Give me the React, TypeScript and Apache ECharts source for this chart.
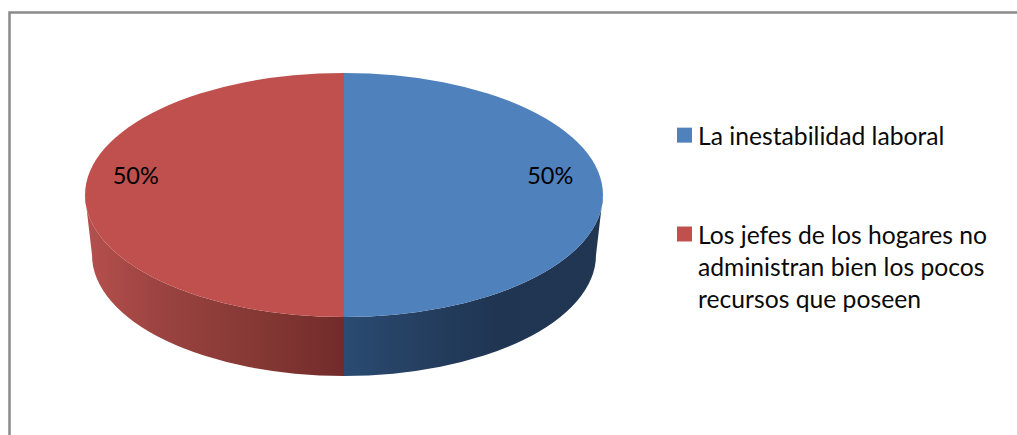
import React, { useEffect, useRef } from "react";
import * as echarts from "echarts";

const categories = [
  "La inestabilidad laboral",
  "Los jefes de los hogares no administran bien los pocos recursos que poseen",
];
const legendLabels = [
  "La inestabilidad laboral",
  "Los jefes de los hogares no\nadministran bien los pocos\nrecursos que poseen",
];
const values = [50, 50];
const topColors = ["#4F81BD", "#C0504D"];
const sideStops = [
  [
    [0, "#2A4B72"],
    [0.3, "#253F60"],
    [0.6, "#1F3552"],
    [1, "#203651"],
  ],
  [
    [0, "#B5504D"],
    [0.3, "#9A4340"],
    [0.7, "#833733"],
    [1, "#722B2A"],
  ],
];

const FONT = "Lato";
const C = { x: 344, y: 195, rx: 259, ry: 122 };
const B = { x: 344, y: 255, rx: 252, ry: 121 };
const total = values.reduce((a, b) => a + b, 0);
const starts = values.map((_, i) => values.slice(0, i).reduce((a, b) => a + b, 0));

const pt = (e: typeof C, a: number) => [e.x + e.rx * Math.sin(a), e.y - e.ry * Math.cos(a)];

function renderSlice(_: any, api: any) {
  const v = api.value(0);
  const s = api.value(1);
  const t = api.value(2);
  const idx = api.value(3);
  const a0 = (s / t) * 2 * Math.PI;
  const a1 = ((s + v) / t) * 2 * Math.PI;
  const [sx, sy] = pt(C, a0);
  const [ex, ey] = pt(C, a1);
  const large = a1 - a0 > Math.PI ? 1 : 0;
  const top = `M${C.x} ${C.y}L${sx} ${sy}A${C.rx} ${C.ry} 0 ${large} 1 ${ex} ${ey}Z`;

  const children: any[] = [];
  const v0 = Math.max(a0, Math.PI / 2);
  const v1 = Math.min(a1, (3 * Math.PI) / 2);
  if (v1 > v0) {
    const [p, q] = pt(C, v0);
    const [r, u] = pt(C, v1);
    const [b1, b2] = pt(B, v1);
    const [b3, b4] = pt(B, v0);
    const side = `M${p} ${q}A${C.rx} ${C.ry} 0 0 1 ${r} ${u}L${b1} ${b2}A${B.rx} ${B.ry} 0 0 0 ${b3} ${b4}Z`;
    children.push({
      type: "path",
      shape: { pathData: side },
      style: {
        fill: new echarts.graphic.LinearGradient(
          0,
          0,
          1,
          0,
          (idx === 0 ? sideStops[0] : sideStops[1]).map(([offset, color]) => ({ offset, color }))
        ),
      },
    });
  }
  children.push({ type: "path", shape: { pathData: top }, style: { fill: api.visual("color") } });

  const mid = (a0 + a1) / 2;
  children.push({
    type: "text",
    style: {
      x: C.x - 1 + C.rx * 0.8 * Math.sin(mid),
      y: C.y - 20,
      text: `${Math.round((v / t) * 100)}%`,
      fill: "#000",
      font: `23.5px ${FONT}`,
      align: "center",
      verticalAlign: "middle",
    },
  });
  return { type: "group", children };
}

export default function App() {
  const ref = useRef<HTMLDivElement>(null);
  useEffect(() => {
    const chart = echarts.init(ref.current!, undefined, { renderer: "svg" });
    const legendBase = {
      left: 677,
      orient: "vertical",
      padding: 0,
      itemWidth: 15,
      selectedMode: false,
      textStyle: { fontFamily: FONT, fontSize: 24.7, color: "#0a0a0a", lineHeight: 32.3, padding: [0, 0, 0, 1] },
      formatter: (n: string) => legendLabels[categories.indexOf(n)],
    };
    chart.setOption({
      animation: false,
      backgroundColor: "#fff",
      graphic: [
        {
          type: "polyline",
          shape: { points: [[9.5, 435], [9.5, 12.5], [1017, 12.5]] },
          style: { stroke: "#8A8A8A", lineWidth: 2.5, fill: "none" },
          silent: true,
        },
      ],
      legend: [
        { ...legendBase, top: 119, itemHeight: 15, icon: "rect", data: [categories[0]] },
        {
          ...legendBase,
          top: 218,
          itemHeight: 80,
          icon: "path://M0 0H15V15H0ZM0 80H0.01V80Z",
          data: [categories[1]],
        },
      ],
      series: categories.map((name, i) => ({
        type: "custom",
        name,
        coordinateSystem: "none",
        renderItem: renderSlice,
        silent: true,
        itemStyle: { color: topColors[i] },
        data: [[values[i], starts[i], total, i]],
      })),
    });
    return () => chart.dispose();
  }, []);
  return <div ref={ref} style={{ position: "absolute", left: 0, top: 0, width: 1017, height: 435 }} />;
}
